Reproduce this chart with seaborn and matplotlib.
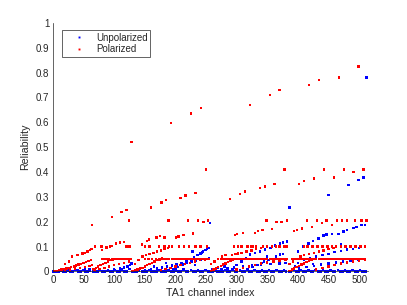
import matplotlib
matplotlib.use("Agg")
import matplotlib.pyplot as plt
import seaborn as sns
import pandas as pd

# (channel, reliability) pairs, one list per channel block

# Unpolarized
unpol_base = [(1, 0), (5, 0), (9, 0), (13, 0.003), (17, 0), (21, 0), (25, 0.004), (29, 0),
              (33, 0), (37, 0.005), (41, 0), (45, 0), (49, 0.006), (53, 0), (57, 0),
              (61, 0.004), (65, 0), (69, 0), (73, 0), (77, 0.005), (81, 0), (85, 0),
              (89, 0.003), (93, 0), (97, 0), (101, 0.006), (105, 0), (109, 0),
              (113, 0.008), (117, 0), (121, 0), (125, 0.01), (129, 0), (133, 0), (137, 0),
              (141, 0.004), (145, 0), (149, 0), (153, 0), (157, 0.005), (161, 0), (165, 0),
              (169, 0), (173, 0.006), (177, 0), (181, 0), (185, 0), (189, 0.004), (193, 0),
              (197, 0), (201, 0.003), (205, 0), (209, 0), (213, 0.008), (217, 0), (221, 0),
              (225, 0.005), (229, 0), (233, 0), (237, 0.004), (241, 0), (245, 0),
              (249, 0.006), (253, 0), (257, 0), (261, 0), (265, 0.004), (269, 0), (273, 0),
              (277, 0), (281, 0.006), (285, 0), (289, 0), (293, 0.005), (297, 0), (301, 0),
              (305, 0.004), (309, 0), (313, 0), (317, 0.006), (321, 0), (325, 0),
              (329, 0.005), (333, 0), (337, 0), (341, 0.004), (345, 0), (349, 0),
              (353, 0.006), (357, 0), (361, 0), (365, 0.005), (369, 0), (373, 0),
              (377, 0.004), (381, 0), (385, 0), (389, 0), (393, 0.005), (397, 0), (401, 0),
              (405, 0.006), (409, 0), (413, 0), (417, 0.004), (421, 0), (425, 0),
              (429, 0.005), (433, 0), (437, 0), (441, 0.006), (445, 0), (449, 0),
              (453, 0.004), (457, 0), (461, 0), (465, 0.005), (469, 0), (473, 0),
              (477, 0.004), (481, 0), (485, 0), (489, 0.006), (493, 0), (497, 0),
              (501, 0.005), (505, 0), (509, 0), (511, 0)]
unpol_g1 = [(40, 0.006), (52, 0.008), (60, 0.01), (90, 0.005), (100, 0.008), (110, 0.012),
            (116, 0.016), (122, 0.02), (126, 0.025), (128.5, 0.032)]
unpol_g2 = [(150, 0.004), (160, 0.008), (170, 0.012), (178, 0.016), (186, 0.02),
            (194, 0.024), (202, 0.028), (210, 0.032), (218, 0.036), (226, 0.04),
            (234, 0.043), (242, 0.046), (250, 0.05), (255, 0.052),
            (196, 0.008), (204, 0.018), (212, 0.028), (218, 0.04), (224, 0.05), (230, 0.058),
            (236, 0.066), (241, 0.073), (245, 0.08), (249, 0.086), (252, 0.09), (255, 0.095),
            (140, 0.01), (165, 0.02), (185, 0.035), (228, 0.08), (243, 0.077),
            (256.5, 0.194), (200, 0.012), (232, 0.025)]
unpol_g3 = [(292, 0.01), (300, 0.025), (308, 0.04), (315, 0.055), (322, 0.068), (330, 0.075),
            (338, 0.08), (346, 0.088), (355, 0.094), (363, 0.104), (371, 0.113),
            (376, 0.117), (382, 0.121),
            (318, 0.01), (326, 0.018), (334, 0.025), (341, 0.035), (345, 0.04), (352, 0.045),
            (358, 0.05), (364, 0.06), (371, 0.068), (376, 0.07),
            (264, 0.004), (275, 0.008), (285, 0.012), (296, 0.016), (310, 0.02),
            (325, 0.024), (340, 0.028), (355, 0.03), (370, 0.032), (380, 0.035),
            (260, 0.01), (270, 0.015), (280, 0.02), (386, 0.258), (350, 0.06), (335, 0.05)]
unpol_g4 = [(400, 0.08), (408, 0.1), (417, 0.113), (425, 0.122), (433.5, 0.133),
            (441.7, 0.144), (447, 0.148), (456, 0.15), (466, 0.151), (474.4, 0.161),
            (480, 0.167), (490.7, 0.174), (496, 0.178), (504, 0.188), (510, 0.188),
            (395, 0.02), (400, 0.035), (410, 0.045), (420, 0.055), (430, 0.06), (440, 0.065),
            (450, 0.07), (460, 0.078), (470, 0.083), (480, 0.088), (490, 0.09), (500, 0.095),
            (510, 0.1),
            (390, 0.008), (402, 0.012), (414, 0.018), (426, 0.022), (438, 0.028),
            (450, 0.032), (462, 0.036), (474, 0.04), (486, 0.044), (498, 0.048), (508, 0.05),
            (450, 0.308), (482.5, 0.347), (499, 0.367), (507, 0.378), (512, 0.78),
            (425, 0.03), (455, 0.05), (470, 0.11), (395, 0.05)]

# Polarized
pol_g1 = [(2, 0.002), (6, 0.003), (10, 0.005), (14, 0.008), (18, 0.01), (22, 0.012),
          (26, 0.015), (30, 0.018), (34, 0.02), (38, 0.024), (42, 0.028), (46, 0.03),
          (50, 0.034), (54, 0.038), (58, 0.042), (62, 0.045),
          (20, 0.005), (28, 0.008), (36, 0.012), (44, 0.015), (52, 0.018), (60, 0.022),
          (64, 0.025),
          (68, 0.005), (76, 0.01), (84, 0.015), (92, 0.02), (100, 0.025), (108, 0.03),
          (116, 0.035), (124, 0.04),
          (66, 0.01), (70, 0.015), (74, 0.02), (78, 0.025), (82, 0.03), (86, 0.035),
          (90, 0.04), (94, 0.045), (98, 0.048),
          (80, 0.05), (84, 0.05), (88, 0.05), (92, 0.05), (96, 0.05), (100, 0.05),
          (104, 0.05), (108, 0.05), (112, 0.05), (116, 0.05), (120, 0.05), (124, 0.05),
          (127, 0.05),
          (20, 0.03), (26, 0.04), (31.6, 0.06), (40, 0.065), (48, 0.073), (52, 0.075),
          (56.6, 0.08), (60.6, 0.087), (63, 0.09),
          (80, 0.087), (87.5, 0.097), (96, 0.102), (103, 0.113), (110, 0.116), (116, 0.119),
          (120, 0.1), (125, 0.1), (68.6, 0.1), (79.6, 0.1), (93, 0.1),
          (64.3, 0.188), (96, 0.218), (112, 0.238), (120.4, 0.248), (124.7, 0.205),
          (128.6, 0.52)]
pol_g2 = [(130, 0.002), (134, 0.005), (138, 0.008), (142, 0.012), (146, 0.015), (150, 0.02),
          (154, 0.025), (158, 0.03), (162, 0.035), (166, 0.04), (170, 0.045), (174, 0.048),
          (176, 0.005), (184, 0.01), (192, 0.015), (200, 0.02), (208, 0.025), (216, 0.03),
          (224, 0.035), (232, 0.04), (240, 0.045), (248, 0.048), (254, 0.05),
          (150, 0.05), (156, 0.05), (162, 0.05), (168, 0.05), (174, 0.05), (178, 0.052),
          (182, 0.05), (186, 0.05), (190, 0.05), (194, 0.05), (198, 0.05), (202, 0.05),
          (206, 0.05), (210, 0.05), (214, 0.05), (218, 0.05), (222, 0.05), (226, 0.05),
          (230, 0.05), (234, 0.05), (238, 0.05), (242, 0.05), (246, 0.05), (250, 0.05),
          (255, 0.05),
          (134, 0.03), (140, 0.045), (146, 0.06), (152, 0.065), (158, 0.07), (164, 0.075),
          (170, 0.08), (176, 0.085), (182, 0.09), (188, 0.095), (194, 0.1),
          (150, 0.1), (158, 0.1), (173, 0.1), (182, 0.1), (190, 0.1), (206, 0.1),
          (214, 0.1), (222, 0.1), (233, 0.1), (241, 0.1), (252, 0.1),
          (145, 0.108), (153.5, 0.123), (157, 0.129), (169.4, 0.137), (175, 0.143),
          (182, 0.137), (201, 0.136), (205, 0.141), (213, 0.147), (229, 0.152),
          (188.4, 0.205), (221, 0.205), (237, 0.205), (245.6, 0.198), (253, 0.205),
          (160.6, 0.258), (177, 0.277), (184.6, 0.287), (208.6, 0.296), (216.8, 0.305),
          (233, 0.316), (192.8, 0.597), (225.5, 0.636), (241.8, 0.657), (249.5, 0.41)]
pol_g3 = [(258, 0.003), (262, 0.008), (266, 0.012), (270, 0.018), (274, 0.022), (278, 0.028),
          (282, 0.032), (286, 0.038), (290, 0.042), (294, 0.046),
          (300, 0.008), (310, 0.014), (320, 0.02), (330, 0.026), (340, 0.032), (350, 0.036),
          (360, 0.04), (370, 0.044), (380, 0.048),
          (270, 0.05), (274, 0.05), (278, 0.05), (282, 0.05), (286, 0.05), (290, 0.05),
          (294, 0.05), (298, 0.05), (302, 0.05), (306, 0.05), (310, 0.05), (314, 0.05),
          (318, 0.05), (322, 0.05), (326, 0.05), (330, 0.05), (334, 0.05), (338, 0.05),
          (342, 0.05), (346, 0.05), (350, 0.05), (354, 0.05), (358, 0.05), (362, 0.05),
          (366, 0.05), (370, 0.05), (374, 0.05), (378, 0.05), (382, 0.05),
          (258, 0.03), (264, 0.04), (270, 0.05), (276, 0.06), (282, 0.065), (292, 0.067),
          (298, 0.07), (302, 0.072), (308, 0.075), (316, 0.08), (324, 0.085), (332, 0.09),
          (340, 0.095),
          (296, 0.1), (302, 0.1), (308, 0.1), (318, 0.1), (323, 0.1), (326, 0.1), (332, 0.1),
          (343, 0.1), (350, 0.1), (358, 0.1), (364, 0.1), (370, 0.1), (378, 0.1), (382, 0.1),
          (297, 0.147), (301, 0.151), (310, 0.155), (330, 0.155), (335, 0.162),
          (342, 0.166), (358, 0.171),
          (289, 0.292), (305.5, 0.312), (313.7, 0.322), (322, 0.67), (338, 0.336),
          (346.4, 0.342), (354, 0.71), (362, 0.353), (370, 0.73), (378, 0.41),
          (349, 0.205), (365, 0.2), (373, 0.2), (382, 0.205)]
pol_g4 = [(386, 0.003), (390, 0.008), (394, 0.012), (398, 0.018), (402, 0.022), (406, 0.028),
          (410, 0.032), (414, 0.038), (418, 0.042), (422, 0.046),
          (430, 0.008), (440, 0.014), (450, 0.02), (460, 0.026), (470, 0.032), (480, 0.036),
          (490, 0.04), (500, 0.044), (510, 0.048),
          (390, 0.05), (394, 0.05), (398, 0.05), (402, 0.05), (406, 0.05), (410, 0.05),
          (414, 0.05), (418, 0.05), (422, 0.05), (426, 0.05), (430, 0.05), (434, 0.05),
          (438, 0.05), (442, 0.05), (446, 0.05), (450, 0.05), (454, 0.05), (458, 0.05),
          (462, 0.05), (466, 0.05), (470, 0.05), (474, 0.05), (478, 0.05), (482, 0.05),
          (486, 0.05), (490, 0.05), (494, 0.05), (498, 0.05), (502, 0.05), (506, 0.05),
          (510, 0.05),
          (386, 0.03), (392, 0.04), (398, 0.05), (404, 0.06), (410, 0.065), (418, 0.07),
          (426, 0.075), (434, 0.08), (442, 0.085), (450, 0.09), (458, 0.095),
          (410, 0.1), (416, 0.1), (424, 0.1), (432, 0.1), (440, 0.1), (448, 0.1), (456, 0.1),
          (462, 0.1), (470, 0.1), (478, 0.1), (486, 0.1), (494, 0.1), (502, 0.1), (510, 0.1),
          (394, 0.163), (399, 0.167), (407, 0.173), (423, 0.18), (456, 0.186),
          (414.5, 0.205), (431, 0.205), (439, 0.195), (447, 0.205), (463.6, 0.205),
          (471.8, 0.205), (480, 0.205), (493.5, 0.205), (504, 0.205), (512, 0.205),
          (402, 0.353), (410, 0.363), (418, 0.75), (426.5, 0.374), (434.6, 0.77),
          (443, 0.41), (458.7, 0.378), (466.8, 0.78), (475, 0.41), (490.7, 0.4),
          (499, 0.825), (507, 0.41)]

series_names = ["Unpolarized", "Polarized"]
xticks = [0, 50, 100, 150, 200, 250, 300, 350, 400, 450, 500]
yticks = [0, 0.1, 0.2, 0.3, 0.4, 0.5, 0.6, 0.7, 0.8, 0.9, 1]
ytick_labels = ["0", "0.1", "0.2", "0.3", "0.4", "0.5", "0.6", "0.7", "0.8", "0.9", "1"]

unpol = pd.DataFrame(unpol_base + unpol_g1 + unpol_g2 + unpol_g3 + unpol_g4,
                     columns=["channel", "reliability"])
unpol["kind"] = series_names[0]
pol = pd.DataFrame(pol_g1 + pol_g2 + pol_g3 + pol_g4, columns=["channel", "reliability"])
pol["kind"] = series_names[1]
df = pd.concat([unpol, pol], ignore_index=True)

sns.set_style("white")
plt.rcParams["font.family"] = ["Liberation Sans", "DejaVu Sans"]

fig = plt.figure(figsize=(4.07, 3.05), dpi=100)
ax = fig.add_axes([0.13, 0.11, 0.775, 0.815])

sns.scatterplot(data=df, x="channel", y="reliability", hue="kind",
                palette={"Unpolarized": "#0000ff", "Polarized": "#ff0000"},
                s=3, linewidth=0, marker="s", ax=ax, clip_on=False)

ax.set_xlim(0, 515)
ax.set_ylim(0, 1)
ax.set_xticks(xticks)
ax.set_yticks(yticks)
ax.set_yticklabels(ytick_labels)
ax.tick_params(direction="in", length=2.5, width=0.5, color="0.15",
               labelsize=7, labelcolor="0.15", pad=2.5)
for side in ["top", "right"]:
    ax.spines[side].set_visible(False)
for side in ["left", "bottom"]:
    ax.spines[side].set_color("0.15")
    ax.spines[side].set_linewidth(0.5)
ax.set_xlabel("TA1 channel index", fontsize=7.7, color="0.15", labelpad=2)
ax.set_ylabel("Reliability", fontsize=7.7, color="0.15", labelpad=4)

leg = ax.legend(loc="upper left", bbox_to_anchor=(0.028, 0.972), fontsize=7,
                frameon=True, fancybox=False, edgecolor="0.15", framealpha=1,
                handletextpad=0.2, borderpad=0.3, labelspacing=0.15,
                handlelength=3.0, markerscale=0.8, borderaxespad=0)
leg.get_frame().set_linewidth(0.5)
for t in leg.get_texts():
    t.set_color("0.15")

fig.savefig("out.png", dpi=100)
